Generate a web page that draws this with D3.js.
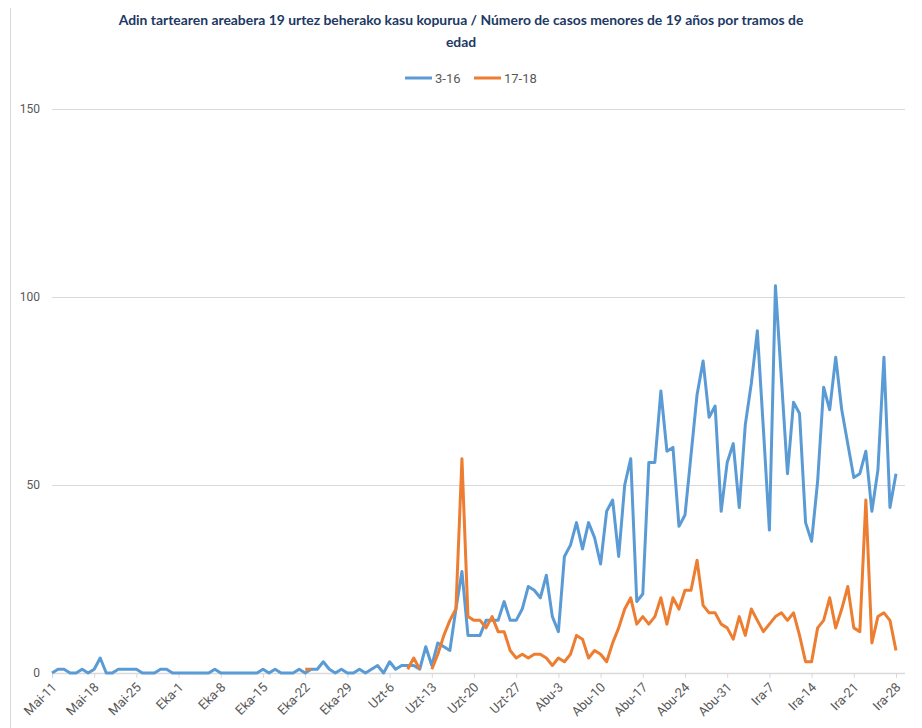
<!DOCTYPE html>
<html>
<head>
<meta charset="utf-8">
<script src="https://cdn.jsdelivr.net/npm/d3@7"></script>
<style>
  body { margin: 0; background: #fff; }
  #chart { width: 922px; height: 728px; }
  .tickText { font-family: "Liberation Sans Narrow", "Roboto", sans-serif; font-size: 12px; fill: #595959; }
</style>
</head>
<body>
<div id="chart"></div>
<script>
//Chart values, one entry per day from May 11 to Sep 28
var startDate = new Date(2020, 4, 11);
var endDate = new Date(2020, 8, 29);
var seriesNames = ["3-16", "17-18"];
var seriesColors = ["#5B9BD5", "#ED7D31"];
var yTicks = [0, 50, 100, 150];
var monthNames = ["Urt", "Ots", "Mar", "Api", "Mai", "Eka", "Uzt", "Abu", "Ira", "Urr", "Aza", "Abe"];

var cases316 = [
  0, 1, 1, 0, 0, 1, 0, 1, 4, 0,
  0, 1, 1, 1, 1, 0, 0, 0, 1, 1,
  0, 0, 0, 0, 0, 0, 0, 1, 0, 0,
  0, 0, 0, 0, 0, 1, 0, 1, 0, 0,
  0, 1, 0, 1, 1, 3, 1, 0, 1, 0,
  0, 1, 0, 1, 2, 0, 3, 1, 2, 2,
  2, 1, 7, 2, 8, 7, 6, 17, 27, 10,
  10, 10, 14, 14, 14, 19, 14, 14, 17, 23,
  22, 20, 26, 15, 11, 31, 34, 40, 33, 40,
  36, 29, 43, 46, 31, 50, 57, 19, 21, 56,
  56, 75, 59, 60, 39, 42, 58, 74, 83, 68,
  71, 43, 56, 61, 44, 66, 77, 91, 65, 38,
  103, 78, 53, 72, 69, 40, 35, 51, 76, 70,
  84, 70, 61, 52, 53, 59, 43, 54, 84, 44,
  53
];

var cases1718 = [
  null, null, null, null, null, null, null, null, null, null,
  null, null, null, null, null, null, null, null, null, null,
  null, null, null, null, null, null, null, null, null, null,
  null, null, null, null, null, null, null, null, null, null,
  null, null, 1, 1, null, null, null, null, null, null,
  null, null, null, null, null, null, null, null, null, 1,
  4, 1, null, 1, 5, 10, 14, 17, 57, 15,
  14, 14, 12, 15, 11, 11, 6, 4, 5, 4,
  5, 5, 4, 2, 4, 3, 5, 10, 9, 4,
  6, 5, 3, 8, 12, 17, 20, 13, 15, 13,
  15, 20, 13, 20, 17, 22, 22, 30, 18, 16,
  16, 13, 12, 9, 15, 10, 17, 14, 11, 13,
  15, 16, 14, 16, 10, 3, 3, 12, 14, 20,
  12, 17, 23, 12, 11, 46, 8, 15, 16, 14,
  6
];

var titleLines = [
  "Adin tartearen areabera 19 urtez beherako kasu kopurua / Número de casos menores de 19 años por tramos de",
  "edad"
];

var width = 922;
var height = 728;

var svg = d3
  .select("#chart")
  .append("svg")
  .attr("width", width)
  .attr("height", height);

//Faint border on the left edge of the chart area
svg
  .append("line")
  .attr("x1", 10.5)
  .attr("x2", 10.5)
  .attr("y1", 8)
  .attr("y2", height)
  .attr("stroke", "#d9d9d9");

var dates = d3.timeDay.range(startDate, endDate);

var xScale = d3
  .scaleTime()
  .domain([dates[0], dates[dates.length - 1]])
  .range([52, 896]);

var yScale = d3
  .scaleLinear()
  .domain([0, 150])
  .range([673, 109]);

//Horizontal grid lines
svg
  .append("g")
  .selectAll("line")
  .data(yTicks.filter(function(t) { return t > 0; }))
  .enter()
  .append("line")
  .attr("x1", 52)
  .attr("x2", 905)
  .attr("y1", function(d) { return Math.round(yScale(d)) + 0.5; })
  .attr("y2", function(d) { return Math.round(yScale(d)) + 0.5; })
  .attr("stroke", "#d9d9d9")
  .attr("stroke-width", 1);

//Y axis labels, no axis line
var yAxis = d3.axisLeft(yScale).tickValues(yTicks).tickSize(0).tickPadding(0);
var yG = svg
  .append("g")
  .attr("transform", "translate(40,0)")
  .call(yAxis);
yG.select(".domain").remove();
yG.selectAll("text").attr("class", "tickText").attr("font-family", null).attr("font-size", null);

//X axis with a tick every seven days
var weekTicks = dates.filter(function(d, i) { return i % 7 === 0; });
var xAxis = d3
  .axisBottom(xScale)
  .tickValues(weekTicks)
  .tickSize(5)
  .tickFormat(function(d) {
    return monthNames[d.getMonth()] + "-" + d.getDate();
  });

var xG = svg
  .append("g")
  .attr("transform", "translate(0,673)")
  .call(xAxis);

xG.select(".domain")
  .attr("d", "M52,0.5H905")
  .attr("stroke", "#d9d9d9")
  .attr("stroke-width", 1.5);
xG.selectAll(".tick line").attr("stroke", "#d9d9d9");
xG.selectAll("text")
  .attr("class", "tickText")
  .attr("font-family", null)
  .attr("font-size", null)
  .style("font-size", "13px")
  .attr("text-anchor", "end")
  .attr("dy", null)
  .attr("y", 0)
  .attr("transform", "translate(5,15) rotate(-45)");

//Lines for each age group
var series = [cases316, cases1718];

var line = d3
  .line()
  .defined(function(d) { return d != null; })
  .x(function(d, i) { return xScale(dates[i]); })
  .y(function(d) { return yScale(d); });

series.forEach(function(values, k) {
  svg
    .append("path")
    .datum(values)
    .attr("fill", "none")
    .attr("stroke", seriesColors[k])
    .attr("stroke-width", 3)
    .attr("stroke-linejoin", "round")
    .attr("d", line);
});

//Title
svg
  .append("g")
  .selectAll("text")
  .data(titleLines)
  .enter()
  .append("text")
  .attr("x", 461)
  .attr("y", function(d, i) { return 25 + i * 22; })
  .attr("text-anchor", "middle")
  .attr("font-family", "Lato, sans-serif")
  .attr("font-weight", "bold")
  .attr("font-size", 13.9)
  .attr("fill", "#203864")
  .text(function(d) { return d; });

//Legend
var legendX = [405, 474];
var legend = svg
  .append("g")
  .selectAll("g")
  .data(seriesNames)
  .enter()
  .append("g")
  .attr("transform", function(d, i) { return "translate(" + legendX[i] + ",78)"; });

legend
  .append("line")
  .attr("x1", 0)
  .attr("x2", 27)
  .attr("y1", 0)
  .attr("y2", 0)
  .attr("stroke", function(d, i) { return seriesColors[i]; })
  .attr("stroke-width", 3);

legend
  .append("text")
  .attr("x", 30)
  .attr("y", 5)
  .attr("class", "tickText")
  .style("font-size", "13px")
  .text(function(d) { return d; });
</script>
</body>
</html>
